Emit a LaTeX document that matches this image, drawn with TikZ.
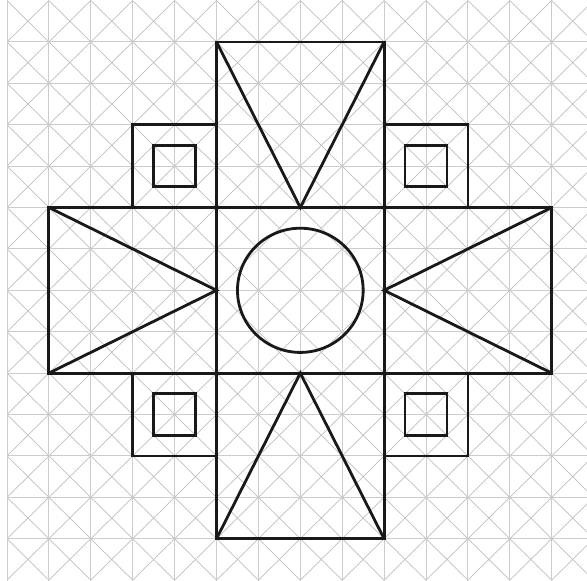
\documentclass[tikz,border=0pt]{standalone}
\begin{document}
\begin{tikzpicture}[x=41.9pt,y=-41.4pt,
  gridline/.style={draw=black!20,line width=0.9pt},
  diagline/.style={draw=black!25,line width=0.7pt},
  bold/.style={draw=black!90,line width=2.8pt,line join=miter}]
\useasboundingbox (-0.167,-0.012) rectangle (13.842,13.998);
\fill[white] (-0.167,-0.012) rectangle (13.842,13.998);
\begin{scope}
\clip (-0.167,-0.012) rectangle (13.842,13.998);
\foreach \i in {0,...,13}{\foreach \j in {0,...,13}{
  \draw[diagline] (\i,\j) -- (\i+1,\j+1);
  \draw[diagline] (\i+1,\j) -- (\i,\j+1);}}
\foreach \i in {0,...,14}{\draw[gridline] (\i,-0.1) -- (\i,14.1);}
\foreach \j in {1,...,13}{\draw[gridline] (0,\j) -- (14,\j);}
\end{scope}
% big rectangles with triangles
\draw[bold] (5,1) rectangle (9,5);
\draw[bold] (5,1) -- (7,5) -- (9,1);
\draw[bold] (5,9) rectangle (9,13);
\draw[bold] (5,13) -- (7,9) -- (9,13);
\draw[bold] (1,5) rectangle (5,9);
\draw[bold] (1,5) -- (5,7) -- (1,9);
\draw[bold] (9,5) rectangle (13,9);
\draw[bold] (13,5) -- (9,7) -- (13,9);
% circle
\draw[bold] (7,7) ellipse [x radius=1.5, y radius=1.5];
% small squares
\foreach \a/\b in {3/3,9/3,3/9,9/9}{
  \draw[bold] (\a,\b) rectangle (\a+2,\b+2);
  \draw[bold] (\a+0.5,\b+0.5) rectangle (\a+1.5,\b+1.5);}
\end{tikzpicture}
\end{document}
